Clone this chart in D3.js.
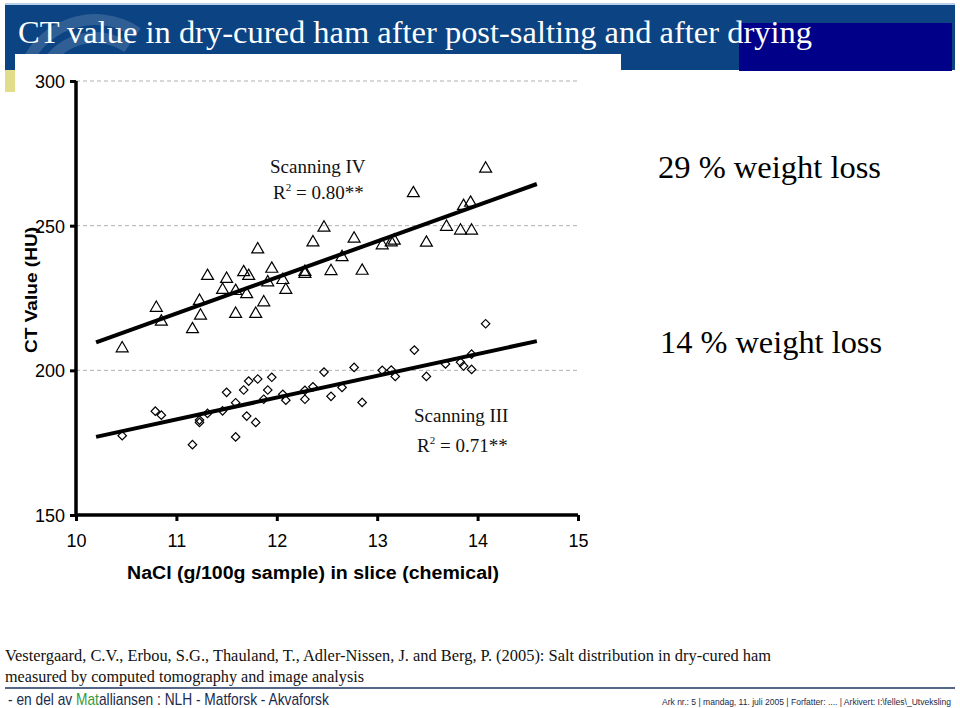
<!DOCTYPE html>
<html>
<head>
<meta charset="utf-8">
<script src="https://cdn.jsdelivr.net/npm/d3@7"></script>
<style>
  html, body { margin: 0; padding: 0; background: #fff; }
  svg { display: block; }
</style>
</head>
<body>
<script>
// ---------------- data ----------------
const xTicks = [10, 11, 12, 13, 14, 15];
const yTicks = [150, 200, 250, 300];
const gridValues = [200, 250, 300];

// Scanning IV (29 % weight loss) – triangles
const ivNaCl = [10.46, 10.80, 10.85, 11.16, 11.23, 11.24, 11.31, 11.46, 11.50, 11.59,
                11.59, 11.67, 11.72, 11.70, 11.79, 11.81, 11.87, 11.91, 11.95, 12.06,
                12.09, 12.28, 12.28, 12.36, 12.47, 12.54, 12.65, 12.77, 12.85, 13.05,
                13.14, 13.17, 13.36, 13.49, 13.69, 13.83, 13.94, 13.86, 13.93, 14.08];
const ivCT   = [207.6, 221.6, 216.8, 214.2, 224.0, 218.9, 232.6, 227.8, 231.6, 227.4,
                219.5, 233.9, 232.6, 226.3, 219.5, 241.8, 223.5, 230.4, 235.1, 231.2,
                227.8, 234.0, 233.3, 244.2, 249.3, 234.3, 239.1, 245.5, 234.4, 243.2,
                244.2, 244.8, 261.2, 244.1, 249.6, 248.3, 248.3, 256.8, 257.9, 269.7];

// Scanning III (14 % weight loss) – diamonds
const iiiNaCl = [10.46, 10.79, 10.85, 11.16, 11.23, 11.23, 11.31, 11.46, 11.50, 11.59,
                 11.59, 11.67, 11.72, 11.70, 11.79, 11.81, 11.87, 11.91, 11.95, 12.06,
                 12.09, 12.28, 12.28, 12.36, 12.47, 12.54, 12.65, 12.77, 12.85, 13.05,
                 13.14, 13.18, 13.37, 13.49, 13.68, 13.83, 13.86, 13.94, 13.94, 14.08];
const iiiCT   = [177.4, 185.9, 184.5, 174.3, 182.8, 182.0, 185.1, 186.0, 192.4, 188.8,
                 177.0, 193.2, 196.3, 184.2, 182.0, 197.0, 190.0, 193.2, 197.6, 191.7,
                 189.7, 193.1, 190.0, 194.3, 199.4, 191.0, 194.1, 201.0, 188.9, 200.0,
                 200.1, 197.9, 207.0, 197.9, 202.2, 202.8, 201.5, 200.3, 205.6, 216.1];

// fitted regression lines (end points)
const fitNaCl = [10.2, 14.59];
const fitIV   = [209.7, 264.4];
const fitIII  = [177.0, 210.1];

const titleText = "CT value in dry-cured ham after post-salting and after drying";
const xTitle = "NaCl (g/100g sample) in slice (chemical)";
const yTitle = "CT Value (HU)";
const citation = ["Vestergaard, C.V., Erbou, S.G., Thauland, T., Adler-Nissen, J. and Berg, P. (2005): Salt distribution in dry-cured ham",
                  "measured by computed tomography and image analysis"];

// ---------------- drawing ----------------
const W = 960, H = 708;
const svg = d3.select("body").append("svg").attr("width", W).attr("height", H);

// header decoration
svg.append("rect").attr("x", 5).attr("y", 3).attr("width", 950).attr("height", 2).attr("fill", "#b8d0ea");
svg.append("rect").attr("x", 5).attr("y", 5).attr("width", 950).attr("height", 65).attr("fill", "#0b4383");
svg.append("rect").attr("x", 739).attr("y", 23).attr("width", 213).attr("height", 48).attr("fill", "#000088");
// faint logo arcs
const arcG = svg.append("g").attr("transform", "translate(95,95)").attr("opacity", 0.15);
[52, 70].forEach((r, i) => {
  arcG.append("path")
    .attr("d", d3.arc().innerRadius(r).outerRadius(r + 11).startAngle(-1.2 - i * 0.1).endAngle(0.6)())
    .attr("fill", "#ffffff");
});
svg.append("rect").attr("x", 15).attr("y", 54).attr("width", 606).attr("height", 600).attr("fill", "#ffffff");
svg.append("rect").attr("x", 5).attr("y", 70).attr("width", 10).attr("height", 22).attr("fill", "#e2dd8a");

svg.append("text").attr("x", 18).attr("y", 43)
  .attr("font-family", "'Liberation Serif', 'Times New Roman', serif")
  .attr("font-size", 32).attr("fill", "#ffffff")
  .attr("textLength", 794).attr("lengthAdjust", "spacingAndGlyphs").text(titleText);

// scales
const x = d3.scaleLinear().domain([10, 15]).range([76, 578]);
const y = d3.scaleLinear().domain([150, 300]).range([515, 81]);

// grid lines
svg.append("g").selectAll("line").data(gridValues).join("line")
  .attr("x1", x(10)).attr("x2", x(15))
  .attr("y1", d => y(d)).attr("y2", d => y(d))
  .attr("stroke", "#b0b0b0").attr("stroke-width", 1).attr("stroke-dasharray", "4,3");

// axes
const yAxis = d3.axisLeft(y).tickValues(yTicks).tickSize(6).tickPadding(5).tickFormat(d3.format("d"));
const gy = svg.append("g").attr("transform", `translate(${x(10)},0)`).call(yAxis);
const xAxis = d3.axisBottom(x).tickValues(xTicks).tickSize(6).tickPadding(13).tickFormat(d3.format("d"));
const gx = svg.append("g").attr("transform", `translate(0,${y(150)})`).call(xAxis);
[gx, gy].forEach(g => {
  g.select(".domain").attr("stroke", "#000").attr("stroke-width", 3.5);
  g.selectAll(".tick line").attr("stroke", "#000").attr("stroke-width", 3);
  g.selectAll(".tick text").attr("font-family", "'Liberation Sans', Arial, sans-serif")
    .attr("font-size", 18).attr("fill", "#000");
});
gx.select(".domain").attr("d", `M${x(10)},0H${x(15)}`);
gy.select(".domain").attr("d", `M0,${y(300)}V${y(150) + 2}`);
gy.selectAll(".tick text").attr("dy", "0.36em");

svg.append("text").attr("x", 313).attr("y", 579).attr("text-anchor", "middle")
  .attr("font-family", "'Liberation Sans', Arial, sans-serif").attr("font-weight", "bold")
  .attr("font-size", 18).attr("textLength", 372).attr("lengthAdjust", "spacingAndGlyphs")
  .text(xTitle);
svg.append("text").attr("transform", "translate(37,290) rotate(-90)").attr("text-anchor", "middle")
  .attr("font-family", "'Liberation Sans', Arial, sans-serif").attr("font-weight", "bold")
  .attr("font-size", 17).attr("textLength", 126).attr("lengthAdjust", "spacingAndGlyphs")
  .text(yTitle);

// regression lines
const lineGen = d3.line().x(d => x(d[0])).y(d => y(d[1]));
[fitIV, fitIII].forEach(vals => {
  svg.append("path").datum(fitNaCl.map((v, i) => [v, vals[i]]))
    .attr("d", lineGen).attr("fill", "none").attr("stroke", "#000").attr("stroke-width", 4);
});

// points
const tri = d3.symbol().type(d3.symbolTriangle).size(62);
svg.append("g").selectAll("path").data(ivNaCl.map((v, i) => [v, ivCT[i]])).join("path")
  .attr("d", tri).attr("transform", d => `translate(${x(d[0])},${y(d[1])})`)
  .attr("fill", "none").attr("stroke", "#000").attr("stroke-width", 1.2);
const dia = d3.symbol().type(d3.symbolSquare).size(36);
svg.append("g").selectAll("path").data(iiiNaCl.map((v, i) => [v, iiiCT[i]])).join("path")
  .attr("d", dia).attr("transform", d => `translate(${x(d[0])},${y(d[1])}) rotate(45)`)
  .attr("fill", "none").attr("stroke", "#000").attr("stroke-width", 1.2);

// annotations
const serif = "'Liberation Serif', 'Times New Roman', serif";
function rLabel(xp, yp, val) {
  const t = svg.append("text").attr("x", xp).attr("y", yp).attr("font-family", serif)
    .attr("font-size", 19).attr("fill", "#111");
  t.append("tspan").text("R");
  t.append("tspan").attr("dy", -8).attr("font-size", 11).text("2");
  t.append("tspan").attr("dy", 8).text(" = " + val + "**");
}
svg.append("text").attr("x", 270).attr("y", 173).attr("font-family", serif).attr("font-size", 19)
  .attr("fill", "#111").text("Scanning IV");
rLabel(273, 199, "0.80");
svg.append("text").attr("x", 414).attr("y", 422).attr("font-family", serif).attr("font-size", 19)
  .attr("fill", "#111").text("Scanning III");
rLabel(417, 452, "0.71");

svg.append("text").attr("x", 658).attr("y", 178).attr("font-family", serif).attr("font-size", 32)
  .attr("textLength", 223).attr("lengthAdjust", "spacingAndGlyphs").text("29 % weight loss");
svg.append("text").attr("x", 660).attr("y", 353).attr("font-family", serif).attr("font-size", 32)
  .attr("textLength", 222).attr("lengthAdjust", "spacingAndGlyphs").text("14 % weight loss");

// footer
const citeLen = [766, 359];
citation.forEach((c, i) => {
  svg.append("text").attr("x", 5).attr("y", 661 + i * 21).attr("font-family", serif)
    .attr("font-size", 16.5).attr("fill", "#111")
    .attr("textLength", citeLen[i]).attr("lengthAdjust", "spacingAndGlyphs").text(c);
});
svg.append("line").attr("x1", 5).attr("x2", 955).attr("y1", 688).attr("y2", 688)
  .attr("stroke", "#1c3560").attr("stroke-width", 1.3);
const ft = svg.append("text").attr("transform", "translate(8,705) scale(0.86,1)")
  .attr("font-family", "'Liberation Sans', Arial, sans-serif")
  .attr("font-size", 16).attr("fill", "#1a2a4a");
ft.append("tspan").text("- en del av ");
ft.append("tspan").attr("fill", "#3a9a3a").text("Mat");
ft.append("tspan").text("alliansen  :  NLH - Matforsk - Akvaforsk");
svg.append("text").attr("transform", "translate(951,705) scale(0.9,1)").attr("text-anchor", "end")
  .attr("font-family", "'Liberation Sans', Arial, sans-serif").attr("font-size", 9.5)
  .attr("fill", "#1a2a4a")
  .text("Ark nr.: 5  |  mandag, 11. juli 2005  |  Forfatter: ....  |  Arkivert: I:\\felles\\_Utveksling");
</script>
</body>
</html>
